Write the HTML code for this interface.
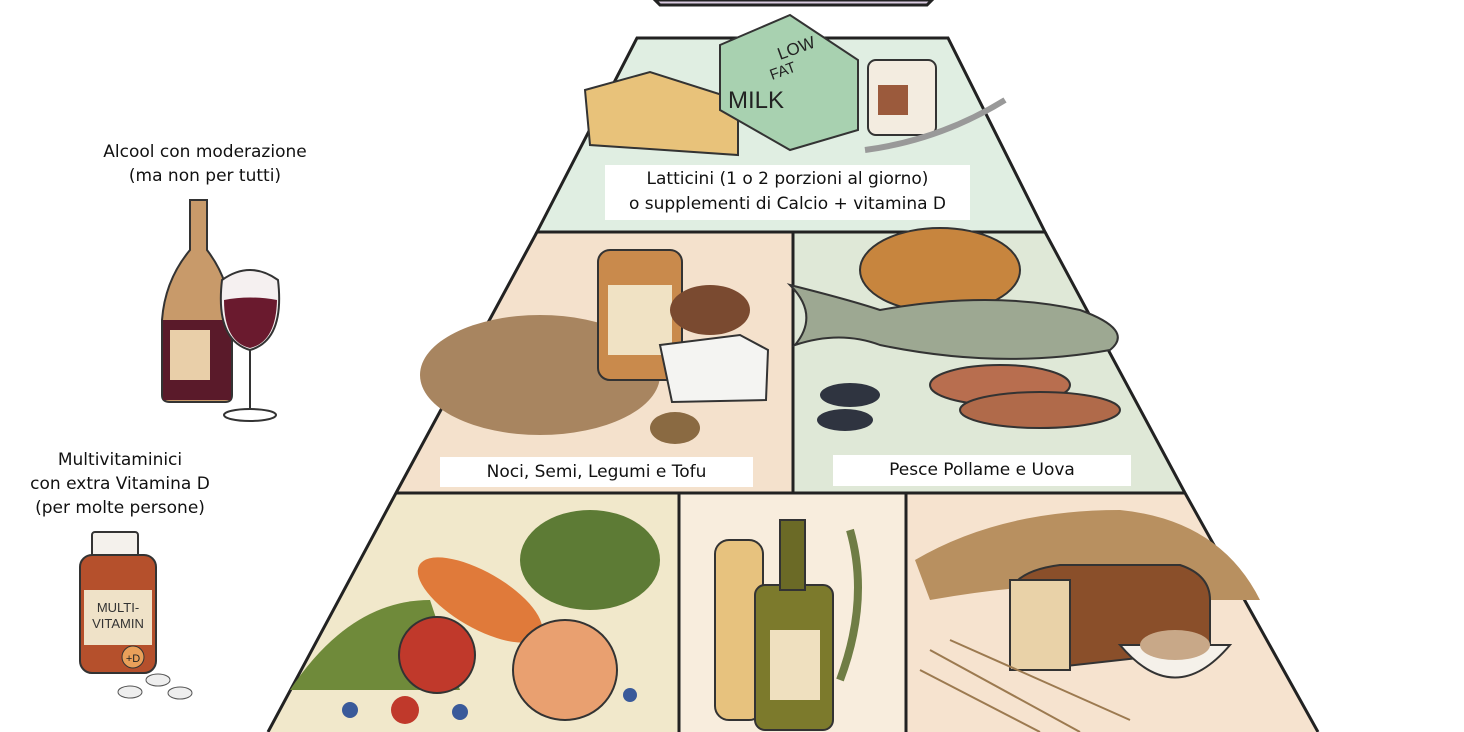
<!DOCTYPE html>
<html><head><meta charset="utf-8"><style>
html,body{margin:0;padding:0;background:#fff;}
body{width:1464px;height:732px;overflow:hidden;position:relative;font-family:"DejaVu Sans","Liberation Sans",sans-serif;}
.t{position:absolute;color:#111;font-size:17px;text-align:center;line-height:24px;}
.box{position:absolute;background:#fff;color:#111;font-size:17px;text-align:center;}
</style></head><body>
<svg width="1464" height="732" style="position:absolute;left:0;top:0">
<!-- top piece -->
<polygon points="655,0 932,0 927,5 660,5" fill="#d9cbe0" stroke="#222" stroke-width="3"/>
<!-- dairy band -->
<polygon points="637,38 948,38 1045,232 537,232" fill="#e0eee2" stroke="#222" stroke-width="3"/>
<!-- middle band -->
<polygon points="537,232 793,232 793,493 396,493" fill="#f4e1cc"/>
<polygon points="793,232 1045,232 1185,493 793,493" fill="#dfe8d7"/>
<!-- bottom band -->
<polygon points="396,493 679,493 679,732 268,732" fill="#f1e8cb"/>
<polygon points="679,493 906,493 906,732 679,732" fill="#f8eddd"/>
<polygon points="906,493 1185,493 1318,732 906,732" fill="#f6e3cf"/>
<g stroke="#222" stroke-width="3" fill="none">
<polyline points="537,232 396,493 268,732"/>
<polyline points="1045,232 1185,493 1318,732"/>
<line x1="537" y1="232" x2="1045" y2="232"/>
<line x1="396" y1="493" x2="1185" y2="493"/>
<line x1="793" y1="232" x2="793" y2="493"/>
<line x1="679" y1="493" x2="679" y2="732"/>
<line x1="906" y1="493" x2="906" y2="732"/>
</g>
<!-- dairy items -->
<polygon points="585,90 650,72 738,100 738,155 590,145" fill="#e8c27a" stroke="#333" stroke-width="2"/>
<polygon points="720,45 790,15 858,60 858,130 790,150 720,110" fill="#a8d1b0" stroke="#333" stroke-width="2"/>
<rect x="868" y="60" width="68" height="75" rx="8" fill="#f3ece0" stroke="#333" stroke-width="2"/>
<rect x="878" y="85" width="30" height="30" fill="#9b5a3c"/>
<path d="M865,150 Q940,140 1005,100" stroke="#999" stroke-width="6" fill="none"/>
<!-- nuts -->
<ellipse cx="540" cy="375" rx="120" ry="60" fill="#a88560"/>
<rect x="598" y="250" width="84" height="130" rx="12" fill="#c98a4c" stroke="#333" stroke-width="2"/>
<rect x="608" y="285" width="64" height="70" fill="#f0e2c4"/>
<polygon points="660,345 740,335 768,350 766,400 672,402" fill="#f4f4f2" stroke="#333" stroke-width="2"/>
<ellipse cx="710" cy="310" rx="40" ry="25" fill="#7a4a30"/>
<ellipse cx="675" cy="428" rx="25" ry="16" fill="#8a6a42"/>
<!-- fish/poultry -->
<ellipse cx="940" cy="270" rx="80" ry="42" fill="#c7853e" stroke="#333" stroke-width="2"/>
<path d="M790,285 Q850,300 880,310 Q990,290 1080,310 Q1135,330 1110,350 Q1000,370 880,345 Q840,330 795,345 Q820,315 790,285Z" fill="#9da892" stroke="#333" stroke-width="2"/>
<ellipse cx="1000" cy="385" rx="70" ry="20" fill="#b86e4f" stroke="#333" stroke-width="2"/>
<ellipse cx="1040" cy="410" rx="80" ry="18" fill="#b06a4a" stroke="#333" stroke-width="2"/>
<ellipse cx="850" cy="395" rx="30" ry="12" fill="#2f3440"/>
<ellipse cx="845" cy="420" rx="28" ry="11" fill="#2f3440"/>
<!-- vegetables -->
<path d="M290,690 Q350,600 430,600 L460,690Z" fill="#6f8a3a"/>
<ellipse cx="480" cy="600" rx="70" ry="28" fill="#e07a3a" transform="rotate(30 480 600)"/>
<ellipse cx="590" cy="560" rx="70" ry="50" fill="#5d7b35"/>
<circle cx="437" cy="655" r="38" fill="#c0392b" stroke="#333" stroke-width="2"/>
<ellipse cx="565" cy="670" rx="52" ry="50" fill="#e9a070" stroke="#333" stroke-width="2"/>
<circle cx="405" cy="710" r="14" fill="#c0392b"/>
<circle cx="350" cy="710" r="8" fill="#3a5a9a"/><circle cx="460" cy="712" r="8" fill="#3a5a9a"/><circle cx="630" cy="695" r="7" fill="#3a5a9a"/>
<!-- oils -->
<rect x="715" y="540" width="48" height="180" rx="14" fill="#e7c27e" stroke="#333" stroke-width="2"/>
<rect x="755" y="585" width="78" height="145" rx="10" fill="#7c7a2c" stroke="#333" stroke-width="2"/>
<rect x="780" y="520" width="25" height="70" fill="#6b6a26" stroke="#333" stroke-width="2"/>
<rect x="770" y="630" width="50" height="70" fill="#efe0bf"/>
<path d="M850,530 Q870,600 840,680" stroke="#6f7d45" stroke-width="8" fill="none"/>
<!-- grains -->
<path d="M915,560 Q1000,510 1120,510 Q1220,520 1260,600 L1200,600 Q1100,570 930,600Z" fill="#b89060"/>
<path d="M1010,590 Q1020,570 1060,565 L1180,565 Q1210,575 1210,600 L1210,650 L1030,670 Q1010,660 1010,640Z" fill="#8a4f2a" stroke="#333" stroke-width="2"/>
<rect x="1010" y="580" width="60" height="90" fill="#e9d2a8" stroke="#333" stroke-width="2"/>
<path d="M1120,645 Q1175,710 1230,645Z" fill="#f5f1ea" stroke="#333" stroke-width="2"/>
<ellipse cx="1175" cy="645" rx="35" ry="15" fill="#c8a888"/>
<g stroke="#9c7a50" stroke-width="2"><line x1="930" y1="650" x2="1080" y2="732"/><line x1="920" y1="670" x2="1040" y2="732"/><line x1="950" y1="640" x2="1130" y2="720"/></g>
<!-- wine -->
<path d="M190,200 L207,200 L207,250 Q230,280 232,320 L232,395 Q232,402 225,402 L170,402 Q162,402 162,395 L162,320 Q165,280 190,250Z" fill="#c89a6a" stroke="#333" stroke-width="2"/>
<rect x="163" y="320" width="68" height="80" fill="#5a1a2a"/>
<rect x="170" y="330" width="40" height="50" fill="#e9cfa9"/>
<path d="M222,280 Q250,260 278,280 Q285,340 250,350 Q215,340 222,280Z" fill="#f5f0f0" stroke="#333" stroke-width="2"/>
<path d="M224,300 Q250,295 277,300 Q276,342 250,348 Q224,342 224,300Z" fill="#6a1a2e"/>
<line x1="250" y1="350" x2="250" y2="410" stroke="#333" stroke-width="2"/>
<ellipse cx="250" cy="415" rx="26" ry="6" fill="none" stroke="#333" stroke-width="2"/>
<!-- multivitamin -->
<rect x="92" y="532" width="46" height="28" rx="3" fill="#f4f1ec" stroke="#333" stroke-width="2"/>
<rect x="80" y="555" width="76" height="118" rx="12" fill="#b5502c" stroke="#333" stroke-width="2"/>
<rect x="84" y="590" width="68" height="55" fill="#efe2c8"/>
<text x="118" y="612" font-size="13" text-anchor="middle" font-family="Liberation Sans" fill="#333">MULTI-</text>
<text x="118" y="628" font-size="13" text-anchor="middle" font-family="Liberation Sans" fill="#333">VITAMIN</text>
<circle cx="133" cy="657" r="11" fill="#e9a05a" stroke="#333"/>
<text x="133" y="662" font-size="11" text-anchor="middle" font-family="Liberation Sans" fill="#222">+D</text>
<ellipse cx="130" cy="692" rx="12" ry="6" fill="#eee" stroke="#555"/><ellipse cx="158" cy="680" rx="12" ry="6" fill="#eee" stroke="#555"/><ellipse cx="180" cy="693" rx="12" ry="6" fill="#eee" stroke="#555"/>
<!-- milk text -->
<text x="780" y="60" font-size="17" font-family="Liberation Sans" fill="#222" transform="rotate(-20 780 60)">LOW</text>
<text x="772" y="80" font-size="15" font-family="Liberation Sans" fill="#222" transform="rotate(-20 772 80)">FAT</text>
<text x="728" y="108" font-size="24" font-family="Liberation Sans" fill="#222">MILK</text>
</svg>
<div class="box" style="left:605px;top:165px;width:365px;height:53px;line-height:25px;padding-top:2px;">Latticini (1 o 2 porzioni al giorno)<br>o supplementi di Calcio + vitamina D</div>
<div class="box" style="left:440px;top:457px;width:313px;height:30px;line-height:30px;">Noci, Semi, Legumi e Tofu</div>
<div class="box" style="left:833px;top:455px;width:298px;height:31px;line-height:31px;">Pesce Pollame e Uova</div>
<div class="t" style="left:60px;top:140px;width:290px;">Alcool con moderazione<br>(ma non per tutti)</div>
<div class="t" style="left:0px;top:448px;width:240px;">Multivitaminici<br>con extra Vitamina D<br>(per molte persone)</div>
</body></html>
